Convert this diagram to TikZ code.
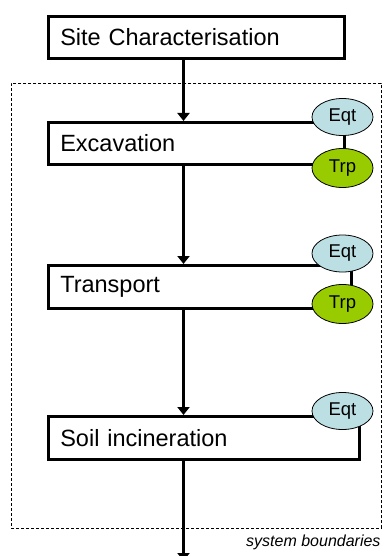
\documentclass[tikz,border=0pt]{standalone}
\usepackage{fontspec}
\setmainfont{Liberation Sans}
\usetikzlibrary{shapes.geometric,arrows.meta}
\definecolor{eqtblue}{HTML}{BCDFE4}
\definecolor{trpgreen}{HTML}{99CC00}
\tikzset{
  stage/.style={draw, line width=2.6pt, anchor=north west, inner xsep=12pt, inner ysep=3pt,
    align=left, font=\fontsize{23.5}{28}\selectfont},
  flow/.style={line width=2.2pt, -{Triangle[width=12pt,length=8pt]}},
  res/.style={ellipse, draw, line width=0.8pt, inner sep=0pt, minimum width=61pt,
    font=\fontsize{18.5}{20}\selectfont},
  eqt/.style={res, fill=eqtblue, minimum height=37pt},
  trp/.style={res, fill=trpgreen, minimum height=39pt},
}
\begin{document}
\begin{tikzpicture}[x=1pt, y=-1pt]
    \useasboundingbox (0,0) rectangle (383,556);
    % system boundaries
    \node[draw, dash pattern=on 3pt off 2pt, line width=0.7pt, inner sep=0pt, anchor=north west,
      minimum width=370pt, minimum height=445pt] (sysb) at (11,83) {};
    \node[anchor=north east, inner sep=1pt, font=\fontsize{16}{18}\selectfont\itshape] (sysl)
      at ([yshift=-5pt]sysb.south east) {system boundaries};
    % stages
    \node[stage, text width=272pt, minimum height=42pt] (site)   at (47,15)  {Site Characterisation};
    \node[stage, text width=272pt, minimum height=42pt] (excav)  at (47,121) {Excavation};
    \node[stage, text width=279pt, minimum height=43pt] (transp) at (47,264) {Transport};
    \node[stage, text width=287pt, minimum height=43pt] (incin)  at (47,415) {Soil incineration};
    % equipment and transport
    \node[eqt] (eqta) at (342.5,117)   {Eqt};
    \node[trp] (trpa) at (342.5,168)   {Trp};
    \node[eqt] (eqtb) at (342.5,253.5) {Eqt};
    \node[trp] (trpb) at (342.5,304)   {Trp};
    \node[eqt] (eqtc) at (342.5,411)   {Eqt};
    % flow
    \coordinate (out) at (183.5,561);
    \draw[flow] ([xshift=136.5pt]site.south west)   -- ([xshift=136.5pt]excav.north west);
    \draw[flow] ([xshift=136.5pt]excav.south west)  -- ([xshift=136.5pt]transp.north west);
    \draw[flow] ([xshift=136.5pt]transp.south west) -- ([xshift=136.5pt]incin.north west);
    \draw[flow] ([xshift=136.5pt]incin.south west)  -- (out);
\end{tikzpicture}
\end{document}
